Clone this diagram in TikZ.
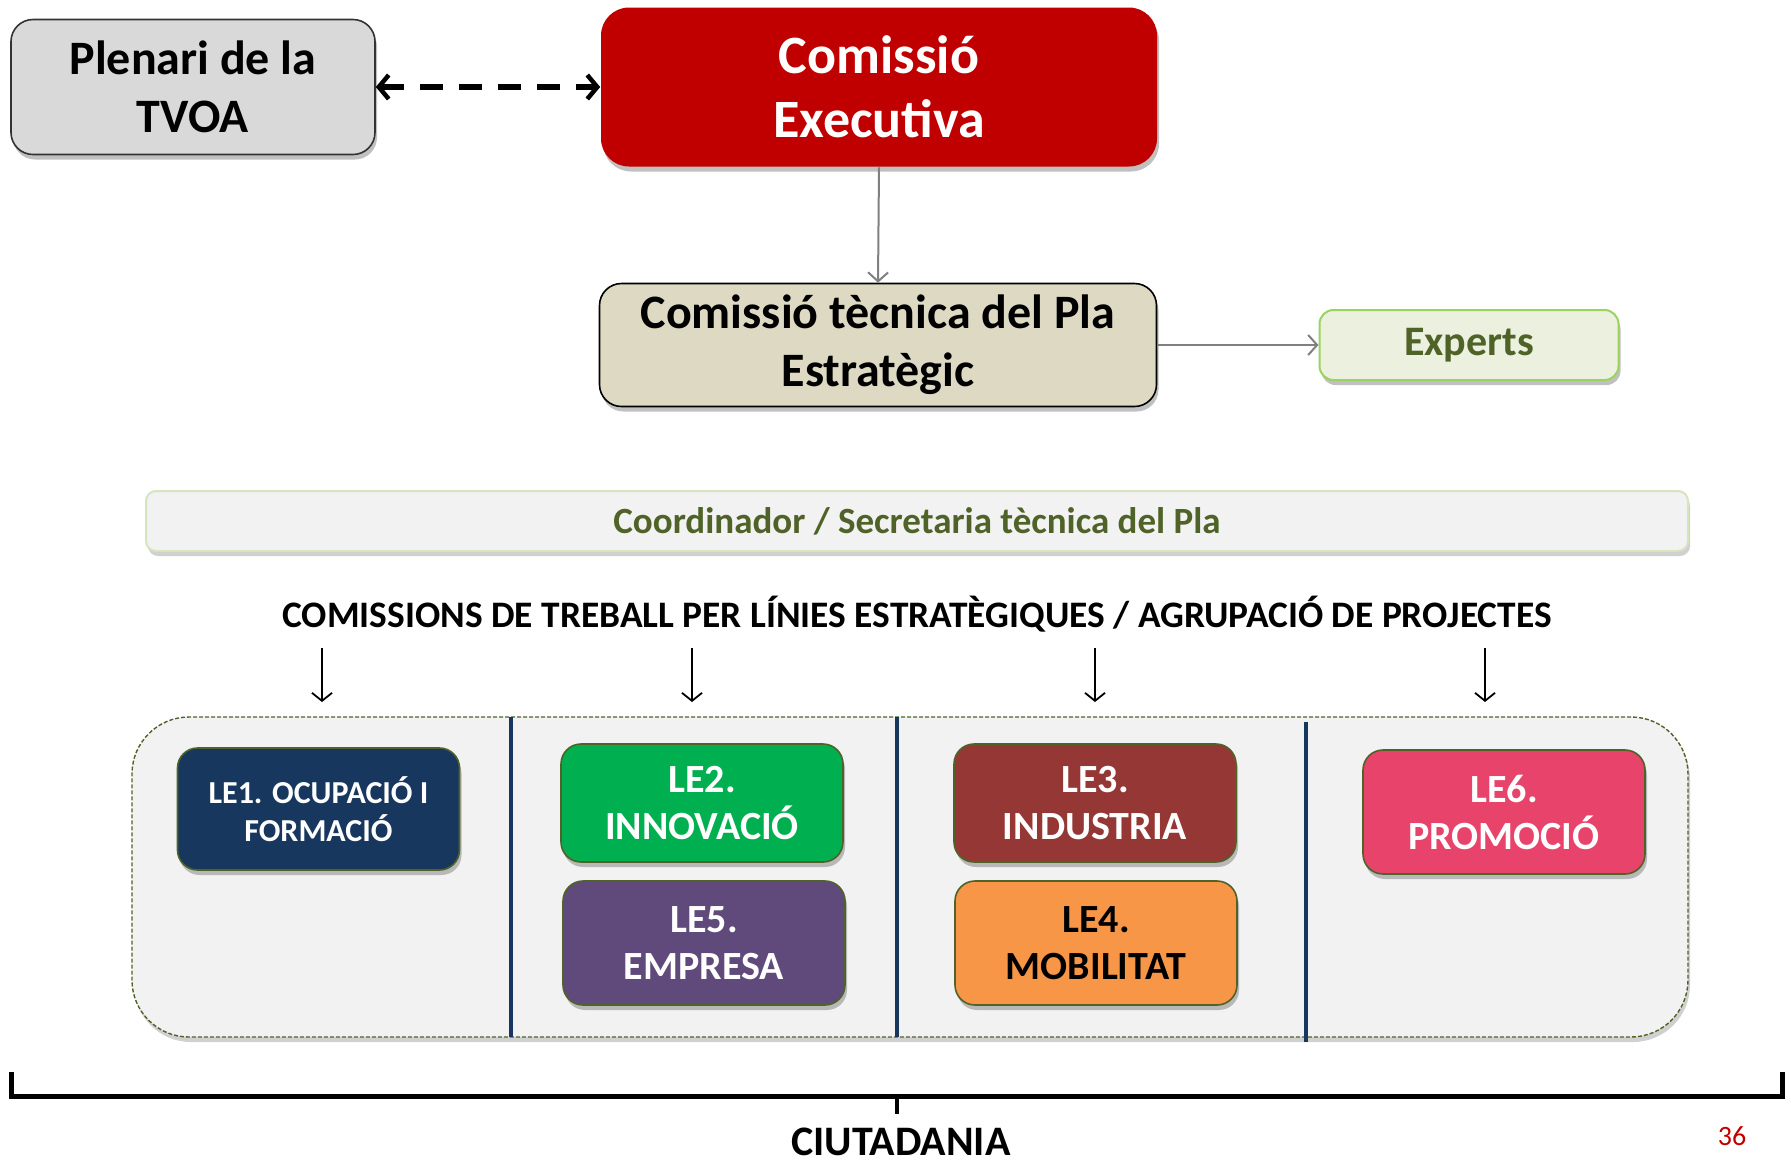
\documentclass[tikz,border=0pt]{standalone}
\usepackage{fontspec}
\setmainfont{Carlito}
\usetikzlibrary{arrows.meta,shadows}
\definecolor{plgray}{HTML}{D9D9D9}
\definecolor{exred}{HTML}{C00000}
\definecolor{tecfill}{HTML}{DDD9C3}
\definecolor{expfill}{HTML}{EBF1DE}
\definecolor{expdraw}{HTML}{9BD35F}
\definecolor{olive}{HTML}{4F6228}
\definecolor{coordfill}{HTML}{F2F2F2}
\definecolor{coorddraw}{HTML}{D7E4BD}
\definecolor{navy}{HTML}{17375E}
\definecolor{legreen}{HTML}{00B050}
\definecolor{lepurple}{HTML}{604A7B}
\definecolor{lebrown}{HTML}{953735}
\definecolor{leorange}{HTML}{F79646}
\definecolor{lepink}{HTML}{E8436B}
\definecolor{pagered}{HTML}{C00000}
\tikzset{
  shad/.style={drop shadow={shadow xshift=2pt,shadow yshift=-5pt,opacity=0.35,fill=black!70}},
  topbox/.style={shad,rounded corners=22pt,draw,line width=1.6pt,align=center,inner sep=0pt,
     font=\bfseries\fontsize{48}{58}\selectfont},
  lebox/.style={shad,rounded corners=20pt,draw=olive,line width=1.6pt,align=center,inner sep=0pt,
     text=white,font=\bfseries\fontsize{40}{47}\selectfont,minimum width=282pt},
  grayarrow/.style={draw=black!50,line width=2pt,-{Straight Barb[length=9pt,width=20pt,line width=2pt]}},
  smallarrow/.style={draw=black,line width=1.8pt,-{Straight Barb[length=8pt,width=20pt,line width=1.8pt]}},
  dasharrow/.style={draw=black,line width=5.5pt,dash pattern=on 23pt off 16pt,
     {Straight Barb[length=10pt,width=24pt,line width=4.5pt]}-{Straight Barb[length=10pt,width=24pt,line width=4.5pt]}},
  sepline/.style={draw=navy,line width=3.5pt},
}
\begin{document}
\begin{tikzpicture}[x=1pt,y=-1pt]
\useasboundingbox[fill=white] (0,0) rectangle (1791,1168);

% top boxes
\node[topbox,draw=black!80,fill=plgray,minimum width=364pt,minimum height=135pt] (plenari) at (193,87) {Plenari de la\\TVOA};
\node[topbox,draw=none,fill=exred,text=white,rounded corners=28pt,minimum width=556pt,minimum height=159pt,
      font=\bfseries\fontsize{54}{64}\selectfont] (exec) at (879,87) {Comissió\\Executiva};
\node[topbox,draw=black,fill=tecfill,minimum width=557pt,minimum height=123pt] (tec) at (878,345) {Comissió tècnica del Pla\\Estratègic};
\node[shad,rounded corners=14pt,draw=expdraw,line width=2pt,fill=expfill,text=olive,inner sep=0pt,
      minimum width=299pt,minimum height=70pt,font=\bfseries\fontsize{42}{48}\selectfont] (exp) at (1469,345) {Experts};

\draw[dasharrow] (plenari.east) -- (exec.west);
\draw[grayarrow] (exec.south) -- (tec.north);
\draw[grayarrow] (tec.east) -- (exp.west);

% coordinator bar
\node[drop shadow={shadow xshift=2pt,shadow yshift=-5pt,opacity=0.3,fill=black!60},rounded corners=10pt,draw=coorddraw,line width=2pt,fill=coordfill,text=olive,
      inner sep=0pt,minimum width=1542pt,minimum height=60pt,font=\bfseries\fontsize{37}{42}\selectfont] (coord) at (917,521)
      {Coordinador / Secretaria tècnica del Pla};

% title
\node[font=\bfseries\fontsize{37.4}{42}\selectfont,inner sep=0pt] (comtitle) at (917,614)
      {COMISSIONS DE TREBALL PER LÍNIES ESTRATÈGIQUES / AGRUPACIÓ DE PROJECTES};

\foreach \n/\x in {1/322,2/692,3/1095,4/1485}{
  \coordinate (as\n) at (\x,648);
  \coordinate (ae\n) at (\x,702);
  \draw[smallarrow] (as\n) -- (ae\n);
}

% container
\node[drop shadow={shadow xshift=2pt,shadow yshift=-5pt,opacity=0.3,fill=black!60},rounded corners=57pt,draw=olive,line width=1.4pt,dash pattern=on 4pt off 2pt,fill=coordfill,
      inner sep=0pt,minimum width=1556pt,minimum height=320pt] (cont) at (910,877) {};
\draw[sepline] (511,717) -- (511,1037);
\draw[sepline] (897,717) -- (897,1037);
\draw[sepline] (1306,722) -- (1306,1042);

% LE boxes
\node[lebox,fill=navy,minimum height=122pt,font=\bfseries\fontsize{32}{38}\selectfont] (le1) at (318.5,809) {LE1. OCUPACIÓ I\\FORMACIÓ};
\node[lebox,fill=legreen,minimum height=118pt] (le2) at (702,803) {LE2.\\INNOVACIÓ};
\node[lebox,fill=lepurple,minimum height=124pt] (le5) at (704,943) {LE5.\\EMPRESA};
\node[lebox,fill=lebrown,minimum height=118pt] (le3) at (1095,803) {LE3.\\INDUSTRIA};
\node[lebox,fill=leorange,text=black,minimum height=124pt] (le4) at (1096,943) {LE4.\\MOBILITAT};
\node[lebox,fill=lepink,minimum height=124pt] (le6) at (1504,812) {LE6.\\PROMOCIÓ};

% brace
\draw[line width=5pt,line join=miter] (11,1072) -- (11,1096) -- (1782,1096) -- (1782,1072);
\draw[line width=4pt] (897,1096) -- (897,1114);

\node[font=\bfseries\fontsize{42}{46}\selectfont,inner sep=0pt] (ciut) at (901,1142) {CIUTADANIA};
\node[text=pagered,font=\fontsize{28}{32}\selectfont,inner sep=0pt] (page) at (1732,1136) {36};
\end{tikzpicture}
\end{document}
